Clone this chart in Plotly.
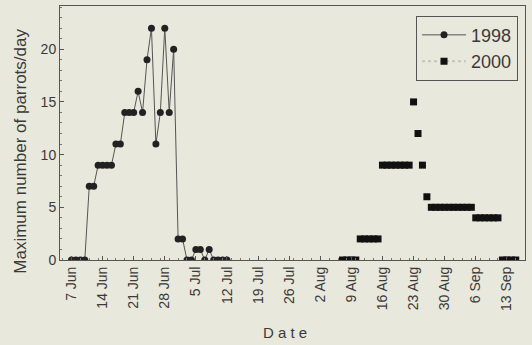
import pandas as pd
import plotly.graph_objects as go

# 1998 season (plotted on a common calendar year)
start_1998 = "2000-06-07"
parrots_1998 = [0, 0, 0, 0, 7, 7, 9, 9, 9, 9, 11, 11, 14, 14, 14, 16, 14, 19, 22, 11,
                14, 22, 14, 20, 2, 2, 0, 0, 1, 1, 0, 1, 0, 0, 0, 0]

# 2000 season
start_2000 = "2000-08-07"
parrots_2000 = [0, 0, 0, 0, 2, 2, 2, 2, 2, 9, 9, 9, 9, 9, 9, 9, 15, 12, 9, 6,
                5, 5, 5, 5, 5, 5, 5, 5, 5, 5, 4, 4, 4, 4, 4, 4, 0, 0, 0, 0]

tick_dates = ["2000-06-07", "2000-06-14", "2000-06-21", "2000-06-28", "2000-07-05",
              "2000-07-12", "2000-07-19", "2000-07-26", "2000-08-02", "2000-08-09",
              "2000-08-16", "2000-08-23", "2000-08-30", "2000-09-06", "2000-09-13"]
tick_labels = ["7 Jun", "14 Jun", "21 Jun", "28 Jun", "5 Jul", "12 Jul", "19 Jul",
               "26 Jul", "2 Aug", "9 Aug", "16 Aug", "23 Aug", "30 Aug", "6 Sep", "13 Sep"]
y_ticks = [0, 5, 10, 15, 20]

dates_1998 = pd.date_range(start_1998, periods=len(parrots_1998), freq="D")
dates_2000 = pd.date_range(start_2000, periods=len(parrots_2000), freq="D")

BG = "#e9e8dc"
INK = "#222222"
TXT = "#3a3a3a"
FONT = "Liberation Sans, Arial, sans-serif"

fig = go.Figure()
fig.add_trace(go.Scatter(
    x=dates_1998, y=parrots_1998, mode="lines+markers", name="1998",
    line=dict(color="#555555", width=1),
    marker=dict(symbol="circle", size=7, color=INK),
))
fig.add_trace(go.Scatter(
    x=dates_2000, y=parrots_2000, mode="markers", name="2000", showlegend=False,
    marker=dict(symbol="square", size=7, color="#111111"),
))
# legend entry for 2000 (faint line as in the original key)
fig.add_trace(go.Scatter(
    x=[None], y=[None], mode="lines+markers", name="2000",
    line=dict(color="#c4c4bc", width=2, dash="dot"),
    marker=dict(symbol="square", size=7, color="#111111"),
))

fig.update_layout(
    width=532, height=345,
    margin=dict(l=60, r=7, t=6, b=85),
    paper_bgcolor=BG, plot_bgcolor=BG,
    font=dict(family=FONT, size=13, color=TXT),
    showlegend=True,
    legend=dict(
        x=0.985, y=0.962, xanchor="right", yanchor="top",
        bgcolor=BG, bordercolor="#555555", borderwidth=1,
        font=dict(size=18, color=TXT), itemwidth=44,
        tracegroupgap=0,
    ),
    xaxis=dict(
        type="date", automargin=False,
        range=["2000-06-04 10:00", "2000-09-17 02:00"],
        tickvals=tick_dates, ticktext=tick_labels, tickangle=-90,
        ticks="inside", ticklen=4, tickcolor="#555555",
        showgrid=False, zeroline=False,
        showline=True, linecolor="#555555", linewidth=1, mirror=True,
        tickfont=dict(size=14, color=TXT),
        minor=dict(ticks="inside", ticklen=2, dtick=86400000 * 2, tickcolor="#777777"),
    ),
    yaxis=dict(
        range=[0, 24.1], automargin=False,
        tickvals=y_ticks,
        ticks="inside", ticklen=4, tickcolor="#555555",
        showgrid=False, zeroline=False,
        showline=True, linecolor="#555555", linewidth=1, mirror=True,
        tickfont=dict(size=14, color=TXT),
        minor=dict(ticks="inside", ticklen=2, dtick=1, tickcolor="#777777"),
    ),
    annotations=[
        dict(text="Maximum number of parrots/day", xref="paper", yref="paper",
             x=-0.084, y=0.43, textangle=-90, showarrow=False,
             font=dict(size=17, color=TXT), xanchor="center", yanchor="middle"),
        dict(text="D a t e", xref="paper", yref="paper",
             x=0.484, y=-0.287, showarrow=False,
             font=dict(size=15, color=TXT), xanchor="center", yanchor="middle"),
    ],
)

fig.write_html(
    "out.html",
    config={"displayModeBar": False},
    post_script="document.body.style.margin='0';document.body.style.overflow='hidden';",
)
